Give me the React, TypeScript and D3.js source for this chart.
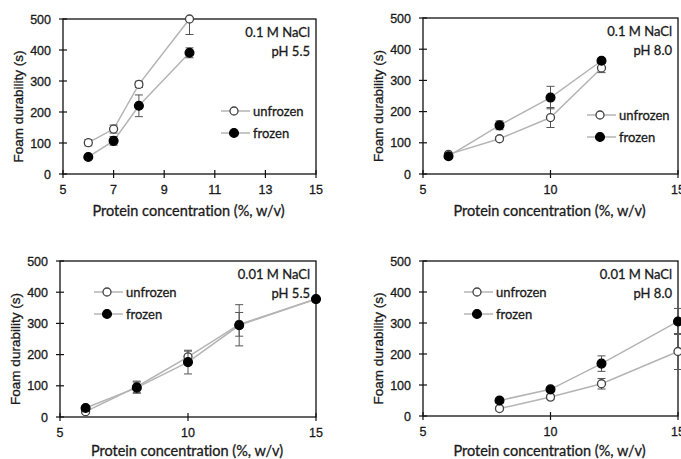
import React, { useEffect, useRef } from 'react';
import * as d3 from 'd3';

// conditions for each panel (reading order: top-left, top-right, bottom-left, bottom-right)
const saltLabels = ['0.1 M NaCl', '0.1 M NaCl', '0.01 M NaCl', '0.01 M NaCl'];
const phLabels = ['pH 5.5', 'pH 8.0', 'pH 5.5', 'pH 8.0'];

const xTicksOdd = [5, 7, 9, 11, 13, 15];
const xTicksFive = [5, 10, 15];
const yTicks = [0, 100, 200, 300, 400, 500];

// protein concentration (%, w/v) per panel
const concA = [6, 7, 8, 10];
const concB = [6, 8, 10, 12];
const concC = [6, 8, 10, 12, 15];
const concD = [8, 10, 12, 15];

// foam durability (s), means and error bars
const unfrozenA = [101, 145, 289, 500];
const unfrozenErrA = [10, 13, 10, 50];
const frozenA = [55, 107, 220, 391];
const frozenErrA = [5, 14, 35, 16];

const unfrozenB = [63, 113, 181, 340];
const unfrozenErrB = [5, 6, 32, 15];
const frozenB = [57, 156, 245, 363];
const frozenErrB = [5, 14, 36, 8];

const unfrozenC = [17, 97, 193, 297, 378];
const unfrozenErrC = [6, 18, 18, 38, 5];
const frozenC = [29, 94, 176, 294, 378];
const frozenErrC = [6, 18, 38, 66, 5];

const unfrozenD = [24, 61, 104, 208];
const unfrozenErrD = [7, 7, 17, 58];
const frozenD = [50, 86, 169, 305];
const frozenErrD = [8, 7, 25, 42];

const panels = [
  { conc: concA, unfrozen: unfrozenA, uErr: unfrozenErrA, frozen: frozenA, fErr: frozenErrA, ticks: xTicksOdd },
  { conc: concB, unfrozen: unfrozenB, uErr: unfrozenErrB, frozen: frozenB, fErr: frozenErrB, ticks: xTicksFive },
  { conc: concC, unfrozen: unfrozenC, uErr: unfrozenErrC, frozen: frozenC, fErr: frozenErrC, ticks: xTicksFive },
  { conc: concD, unfrozen: unfrozenD, uErr: unfrozenErrD, frozen: frozenD, fErr: frozenErrD, ticks: xTicksFive },
];

// plot boxes in page pixels and legend anchor (left end of legend line)
const boxes = [
  { left: 63, right: 316, top: 19, bottom: 174, legX: 221, legY: 111, titleY: 216 },
  { left: 423, right: 678, top: 18, bottom: 174, legX: 587, legY: 115, titleY: 216 },
  { left: 60, right: 316, top: 261, bottom: 417, legX: 94, legY: 292, titleY: 456 },
  { left: 423, right: 678, top: 261, bottom: 416, legX: 464, legY: 292, titleY: 456 },
];

const App = () => {
  const ref = useRef<SVGSVGElement>(null);

  useEffect(() => {
    const svg = d3.select(ref.current);
    svg.selectAll('*').remove();

    const tickFont = '"Liberation Sans", Arial, sans-serif';
    const labelFont = 'Lato, "Liberation Sans", sans-serif';
    const textColor = '#1a1a1a';

    // small helper so every label gets the same look
    const label = (sel: any, font: string, size: number) =>
      sel.style('font-family', font)
        .style('font-size', `${size}px`)
        .style('font-variant-ligatures', 'none')
        .style('fill', textColor)
        .style('stroke', textColor)
        .style('stroke-width', 0.3);

    panels.forEach((p, i) => {
      const b = boxes[i];
      const x = d3.scaleLinear().domain([5, 15]).range([b.left, b.right]);
      const y = d3.scaleLinear().domain([0, 500]).range([b.bottom, b.top]);
      const g = svg.append('g');

      // frame
      g.append('rect')
        .attr('x', b.left).attr('y', b.top)
        .attr('width', b.right - b.left).attr('height', b.bottom - b.top)
        .attr('fill', 'none').attr('stroke', '#111').attr('stroke-width', 1.3);

      // y ticks (crossing the axis)
      g.selectAll('line.yt').data(yTicks).enter().append('line')
        .attr('x1', b.left - 4).attr('x2', b.left + 4)
        .attr('y1', d => y(d)).attr('y2', d => y(d))
        .attr('stroke', '#111').attr('stroke-width', 1.2);
      label(g.selectAll('text.yl').data(yTicks).enter().append('text')
        .attr('x', b.left - 12).attr('y', d => y(d) + 4.5)
        .attr('text-anchor', 'end'), tickFont, 12.5)
        .text(d => d);

      // x ticks
      g.selectAll('line.xt').data(p.ticks).enter().append('line')
        .attr('x1', d => x(d)).attr('x2', d => x(d))
        .attr('y1', b.bottom - 4).attr('y2', b.bottom + 4)
        .attr('stroke', '#111').attr('stroke-width', 1.2);
      label(g.selectAll('text.xl').data(p.ticks).enter().append('text')
        .attr('x', d => x(d)).attr('y', b.bottom + 20)
        .attr('text-anchor', 'middle'), tickFont, 12.5)
        .text(d => d);

      // axis titles
      label(g.append('text')
        .attr('x', (b.left + b.right) / 2 - 1)
        .attr('y', b.titleY)
        .attr('text-anchor', 'middle'), labelFont, 14.5)
        .text('Protein concentration (%, w/v)');
      label(g.append('text')
        .attr('transform', `translate(${b.left - 40},${(b.top + b.bottom) / 2 + 10}) rotate(-90)`)
        .attr('text-anchor', 'middle'), tickFont, 13.5)
        .text('Foam durability (s)');

      // condition labels
      label(g.append('text')
        .attr('x', b.right - 6).attr('y', b.top + 18)
        .attr('text-anchor', 'end'), labelFont, 13)
        .text(saltLabels[i]);
      label(g.append('text')
        .attr('x', b.right - 6).attr('y', b.top + 37)
        .attr('text-anchor', 'end'), labelFont, 13)
        .text(phLabels[i]);

      const series = [
        { vals: p.unfrozen, errs: p.uErr, fill: '#fff', r: 4, name: 'unfrozen' },
        { vals: p.frozen, errs: p.fErr, fill: '#000', r: 4.4, name: 'frozen' },
      ];

      const line = d3.line<number>()
        .x((_, j) => x(p.conc[j]))
        .y(d => y(d));

      series.forEach((s, k) => {
        g.append('path')
          .attr('d', line(s.vals))
          .attr('fill', 'none').attr('stroke', '#b4b4b4').attr('stroke-width', 1.5);

        const eb = g.append('g');
        s.vals.forEach((v, j) => {
          const cx = x(p.conc[j]);
          const lo = y(Math.max(0, v - s.errs[j]));
          const hi = y(Math.min(500, v + s.errs[j]));
          eb.append('line').attr('x1', cx).attr('x2', cx).attr('y1', lo).attr('y2', hi)
            .attr('stroke', '#555').attr('stroke-width', 1);
          [lo, hi].forEach(yy => {
            eb.append('line').attr('x1', cx - 4).attr('x2', cx + 4).attr('y1', yy).attr('y2', yy)
              .attr('stroke', '#555').attr('stroke-width', 1);
          });
        });

        g.selectAll(`circle.s${k}`).data(s.vals).enter().append('circle')
          .attr('cx', (_, j) => x(p.conc[j]))
          .attr('cy', d => y(d))
          .attr('r', s.r)
          .attr('fill', s.fill)
          .attr('stroke', k === 0 ? '#444' : '#000')
          .attr('stroke-width', 1.3);

        // legend entry
        const ly = b.legY + k * 22;
        g.append('line')
          .attr('x1', b.legX).attr('x2', b.legX + 29).attr('y1', ly).attr('y2', ly)
          .attr('stroke', '#b4b4b4').attr('stroke-width', 1.5);
        g.append('circle')
          .attr('cx', b.legX + 13).attr('cy', ly).attr('r', s.r)
          .attr('fill', s.fill).attr('stroke', k === 0 ? '#444' : '#000').attr('stroke-width', 1.3);
        label(g.append('text')
          .attr('x', b.legX + 32).attr('y', ly + 4.5), labelFont, 13)
          .text(s.name);
      });
    });
  }, []);

  return (
    <svg
      ref={ref}
      width={681}
      height={459}
      style={{ position: 'absolute', top: 0, left: 0, background: '#fff' }}
    />
  );
};

export default App;
